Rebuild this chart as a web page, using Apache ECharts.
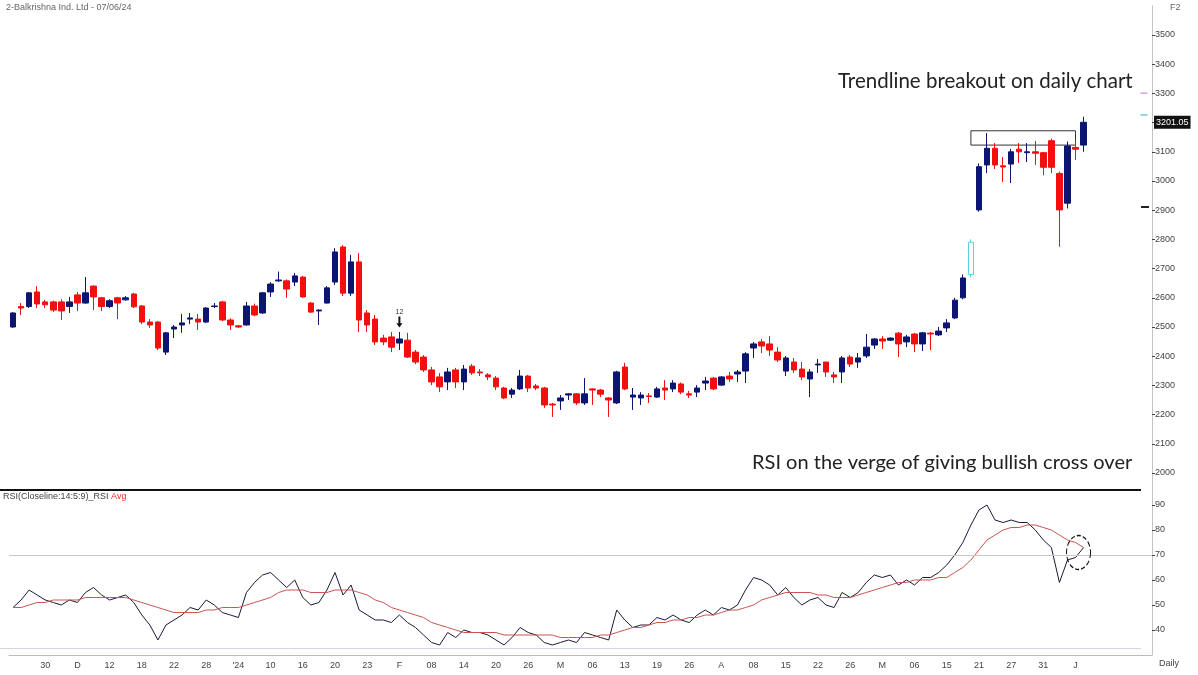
<!DOCTYPE html>
<html>
<head>
<meta charset="utf-8">
<script src="https://cdn.jsdelivr.net/npm/echarts@6/dist/echarts.min.js"></script>
<style>
  html, body { margin: 0; background: #fff; }
  #chart { width: 1198px; height: 675px; }
</style>
</head>
<body>
<div id="chart"></div>
<script>
"use strict";

// daily candles: [open, close, low, high]
const candles = [
  [2500, 2548, 2497, 2551], [2570, 2565, 2541, 2582], [2570, 2617, 2565, 2620], [2620, 2579, 2565, 2640],
  [2586, 2576, 2565, 2593], [2586, 2558, 2551, 2590], [2586, 2555, 2524, 2595], [2570, 2586, 2548, 2603],
  [2610, 2582, 2555, 2620], [2582, 2617, 2580, 2671], [2640, 2603, 2558, 2642], [2600, 2570, 2555, 2603],
  [2570, 2590, 2565, 2595], [2600, 2582, 2527, 2603], [2593, 2600, 2590, 2606], [2613, 2569, 2565, 2617],
  [2572, 2517, 2510, 2575], [2517, 2507, 2497, 2527], [2517, 2428, 2421, 2520], [2414, 2480, 2404, 2483],
  [2493, 2500, 2462, 2507], [2507, 2514, 2480, 2545], [2527, 2531, 2510, 2548], [2527, 2517, 2490, 2545],
  [2517, 2565, 2514, 2568], [2570, 2572, 2565, 2582], [2586, 2524, 2520, 2590], [2524, 2507, 2490, 2530],
  [2504, 2500, 2497, 2507], [2507, 2572, 2505, 2586], [2572, 2541, 2537, 2580], [2548, 2617, 2545, 2620],
  [2620, 2647, 2603, 2654], [2658, 2661, 2654, 2690], [2658, 2630, 2600, 2663], [2654, 2675, 2640, 2685],
  [2671, 2603, 2600, 2675], [2582, 2551, 2548, 2586], [2555, 2558, 2507, 2560], [2582, 2634, 2580, 2640],
  [2654, 2757, 2644, 2770], [2774, 2616, 2606, 2781], [2616, 2723, 2606, 2747], [2723, 2524, 2483, 2753],
  [2548, 2507, 2483, 2558], [2527, 2449, 2438, 2541], [2462, 2449, 2438, 2473], [2466, 2431, 2414, 2483],
  [2445, 2459, 2421, 2483], [2455, 2397, 2394, 2480], [2414, 2380, 2373, 2421], [2397, 2353, 2346, 2404],
  [2353, 2312, 2301, 2363], [2329, 2295, 2277, 2342], [2312, 2346, 2284, 2360], [2353, 2312, 2291, 2360],
  [2312, 2356, 2284, 2370], [2366, 2343, 2336, 2373], [2346, 2343, 2332, 2356], [2336, 2329, 2318, 2342],
  [2325, 2295, 2284, 2332], [2291, 2257, 2253, 2295], [2270, 2284, 2257, 2291], [2288, 2332, 2284, 2353],
  [2332, 2291, 2277, 2336], [2298, 2291, 2284, 2305], [2291, 2233, 2223, 2295], [2236, 2233, 2192, 2240],
  [2247, 2257, 2216, 2267], [2267, 2271, 2250, 2274], [2271, 2240, 2233, 2274], [2240, 2271, 2233, 2325],
  [2288, 2284, 2233, 2290], [2284, 2270, 2260, 2288], [2257, 2250, 2192, 2260], [2240, 2346, 2236, 2350],
  [2363, 2288, 2284, 2377], [2260, 2267, 2216, 2291], [2257, 2267, 2233, 2277], [2264, 2262, 2240, 2274],
  [2260, 2288, 2257, 2295], [2291, 2284, 2250, 2318], [2288, 2308, 2277, 2318], [2305, 2277, 2270, 2310],
  [2271, 2267, 2257, 2281], [2277, 2291, 2260, 2301], [2308, 2315, 2284, 2329], [2325, 2288, 2284, 2329],
  [2301, 2329, 2298, 2332], [2332, 2322, 2312, 2346], [2339, 2346, 2312, 2353], [2349, 2408, 2308, 2414],
  [2428, 2442, 2394, 2449], [2449, 2435, 2411, 2459], [2442, 2421, 2401, 2469], [2414, 2387, 2380, 2431],
  [2349, 2394, 2332, 2401], [2380, 2353, 2343, 2394], [2356, 2329, 2318, 2380], [2322, 2346, 2260, 2356],
  [2370, 2373, 2343, 2390], [2380, 2346, 2329, 2380], [2336, 2329, 2308, 2346], [2346, 2394, 2308, 2401],
  [2397, 2373, 2363, 2404], [2380, 2394, 2360, 2411], [2401, 2431, 2394, 2476], [2438, 2459, 2425, 2462],
  [2459, 2452, 2425, 2469], [2455, 2462, 2452, 2465], [2479, 2442, 2397, 2483], [2449, 2466, 2431, 2473],
  [2476, 2442, 2414, 2480], [2442, 2480, 2418, 2483], [2479, 2476, 2421, 2483], [2473, 2486, 2469, 2500],
  [2497, 2514, 2483, 2527], [2531, 2592, 2527, 2600], [2600, 2668, 2595, 2680], [2680, 2790, 2670, 2800],
  [2901, 3049, 2895, 3060], [3055, 3112, 3027, 3164], [3112, 3055, 3041, 3130], [3052, 3048, 2997, 3082],
  [3058, 3100, 2993, 3110], [3109, 3100, 3062, 3130], [3097, 3100, 3065, 3130], [3100, 3095, 3055, 3137],
  [3097, 3047, 3020, 3100], [3138, 3047, 3027, 3145], [3026, 2901, 2775, 3032], [2924, 3120, 2906, 3135],
  [3115, 3109, 3072, 3138], [3123, 3201.05, 3100, 3220],
];

// candles drawn hollow in cyan
const gapCandles = [119];

const rsi = [
  49, 52, 56, 54, 52, 51, 50, 52, 51, 55, 57, 54, 52, 53, 54, 51, 46, 42, 36, 42,
  44, 46, 49, 48, 52, 50, 47, 46, 45, 55, 59, 62, 63, 60, 57, 60, 53, 50, 51, 56,
  63, 54, 58, 48, 46, 44, 44, 43, 46, 43, 41, 38, 35, 34, 39, 37, 40, 39, 39, 38,
  36, 34, 37, 41, 39, 38, 35, 34, 35, 36, 35, 39, 38, 37, 36, 48, 44, 41, 42, 42,
  45, 44, 46, 44, 43, 46, 48, 46, 49, 48, 50, 56, 61, 60, 58, 54, 57, 53, 50, 52,
  53, 50, 49, 55, 53, 55, 59, 62, 61, 62, 58, 60, 58, 61, 61, 63, 66, 70, 75, 82,
  88, 90, 84, 83, 84, 83, 83, 80, 76, 73, 59, 68, 69, 73,
];

const rsiAvg = [
  49, 49, 50, 51, 51, 52, 52, 52, 52, 53, 53, 53, 53, 53, 53, 52, 51, 50, 49, 48,
  47, 47, 47, 47, 48, 48, 49, 49, 49, 50, 51, 52, 53, 55, 56, 56, 56, 55, 55, 55,
  56, 56, 56, 55, 54, 52, 51, 49, 48, 47, 46, 45, 43, 42, 41, 40, 39, 39, 39, 39,
  39, 38, 38, 38, 38, 38, 38, 38, 37, 37, 37, 37, 37, 38, 38, 39, 40, 41, 41, 42,
  43, 43, 44, 44, 45, 45, 46, 46, 47, 48, 48, 49, 50, 52, 53, 54, 55, 55, 55, 55,
  54, 54, 53, 53, 53, 54, 55, 56, 57, 58, 59, 59, 60, 60, 60, 61, 61, 63, 65, 68,
  72, 76, 78, 80, 81, 81, 82, 82, 81, 80, 78, 76, 75, 73,
];

// one label every 4th session, from session 4 to 132
const tickLabels = [
  "30", "D", "12", "18", "22", "28", "'24", "10", "16", "20", "23", "F", "08", "14", "20", "26", "M",
  "06", "13", "19", "26", "A", "08", "15", "22", "26", "M", "06", "15", "21", "27", "31", "J",
];

const lastClose = 3201.05;
const slotCount = 142; // sessions plus empty space before the price axis

const categories = Array.from({ length: slotCount }, (_, i) => String(i));
const showTick = (i) => i % 4 === 0 && i >= 4 && i <= 132;

const BLUE = "#0c1670";
const RED = "#f20f0f";
const FONT = "Liberation Sans";

const candleData = candles.map((c, i) =>
  gapCandles.includes(i)
    ? { value: c, itemStyle: { color: "#fff", color0: "#fff", borderColor: "#5ccfe0", borderColor0: "#5ccfe0" } }
    : c
);

const chart = echarts.init(document.getElementById("chart"));

chart.setOption({
  animation: false,
  backgroundColor: "#fff",
  grid: [
    { left: 9, right: 46, top: 5.8, height: 496.4 },
    { left: 9, right: 46, top: 490, height: 165 },
  ],
  xAxis: [
    { type: "category", gridIndex: 0, data: categories, boundaryGap: true, show: false },
    {
      type: "category",
      gridIndex: 1,
      data: categories,
      boundaryGap: true,
      axisLine: { lineStyle: { color: "#f2a3a3" } },
      axisTick: { alignWithLabel: true, interval: showTick, length: 4, lineStyle: { color: "#999" } },
      axisLabel: {
        interval: showTick,
        formatter: (v, i) => tickLabels[i / 4 - 1] ?? "",
        fontSize: 9,
        fontFamily: FONT,
        color: "#444",
        margin: 6,
      },
    },
  ],
  yAxis: [
    {
      type: "value",
      gridIndex: 0,
      position: "right",
      min: 1900,
      max: 3600,
      interval: 100,
      splitLine: { show: false },
      axisLine: { show: true, lineStyle: { color: "#c4c4c4" } },
      axisTick: { show: true, length: 3, lineStyle: { color: "#444" } },
      axisLabel: {
        showMinLabel: false,
        showMaxLabel: false,
        // the 3200 label sits under the last-price tag
        formatter: (v) => (v === 3200 ? "" : String(v)),
        fontSize: 9,
        fontFamily: FONT,
        color: "#444",
        margin: 3,
      },
    },
    {
      type: "value",
      gridIndex: 1,
      position: "right",
      min: 30,
      max: 96,
      interval: 10,
      splitLine: { show: false },
      axisLine: { show: true, lineStyle: { color: "#c4c4c4" } },
      axisTick: { show: true, length: 3, lineStyle: { color: "#444" } },
      axisLabel: {
        showMinLabel: false,
        showMaxLabel: false,
        formatter: (v) => (v % 10 === 0 ? String(v) : ""),
        fontSize: 9,
        fontFamily: FONT,
        color: "#444",
        margin: 3,
      },
    },
  ],
  series: [
    {
      type: "candlestick",
      xAxisIndex: 0,
      yAxisIndex: 0,
      data: candleData,
      barWidth: 6,
      itemStyle: { color: BLUE, color0: RED, borderColor: BLUE, borderColor0: RED, borderWidth: 1 },
      markArea: {
        silent: true,
        itemStyle: { color: "transparent", borderColor: "#333", borderWidth: 1 },
        data: [[{ xAxis: 119, yAxis: 3172 }, { xAxis: 132, yAxis: 3123 }]],
      },
      markLine: {
        silent: true,
        symbol: "none",
        lineStyle: { color: "transparent", width: 0 },
        label: {
          show: true,
          position: "end",
          formatter: String(lastClose),
          backgroundColor: "#111",
          color: "#fff",
          fontSize: 9,
          fontFamily: FONT,
          padding: [2, 2],
          distance: 2,
        },
        data: [{ yAxis: lastClose }],
      },
      markPoint: {
        silent: true,
        data: [
          {
            coord: [48, 2517],
            symbol: "path://M2,0 H4 V6 H6 L3,10 L0,6 H2 Z",
            symbolSize: [6, 11],
            itemStyle: { color: "#111" },
            label: { show: true, position: "top", formatter: "12", fontSize: 7, color: "#333", distance: 1 },
          },
          { coord: [141, 3301], symbol: "rect", symbolSize: [7, 1.5], symbolOffset: [-4, 0], itemStyle: { color: "#d9a3d9" }, label: { show: false } },
          { coord: [141, 3226], symbol: "rect", symbolSize: [7, 1.5], symbolOffset: [-4, 0], itemStyle: { color: "#6fcfd9" }, label: { show: false } },
          { coord: [141, 2911], symbol: "rect", symbolSize: [8, 2], symbolOffset: [-3, 0], itemStyle: { color: "#222" }, label: { show: false } },
        ],
      },
    },
    {
      type: "line",
      name: "RSI",
      xAxisIndex: 1,
      yAxisIndex: 1,
      data: rsi,
      symbol: "none",
      lineStyle: { color: "#1a1a38", width: 1 },
      markLine: {
        silent: true,
        symbol: "none",
        label: { show: false },
        lineStyle: { color: "#c8c8c8", type: "solid", width: 1 },
        data: [{ yAxis: 70 }],
      },
      markPoint: {
        silent: true,
        data: [
          {
            coord: [132, 71],
            symbol: "circle",
            symbolSize: [24, 34],
            symbolOffset: [3, 0],
            itemStyle: { color: "transparent", borderColor: "#111", borderWidth: 1.2, borderType: "dashed" },
            label: { show: false },
          },
        ],
      },
    },
    {
      type: "line",
      name: "RSI Avg",
      xAxisIndex: 1,
      yAxisIndex: 1,
      data: rsiAvg,
      symbol: "none",
      lineStyle: { color: "#c8554f", width: 1 },
    },
  ],
  graphic: [
    { type: "text", left: 6, top: 3, style: { text: "2-Balkrishna Ind. Ltd - 07/06/24", font: `9px ${FONT}`, fill: "#666" } },
    { type: "text", left: 1170, top: 3, style: { text: "F2", font: `9px ${FONT}`, fill: "#666" } },
    { type: "text", left: 1159, top: 659, style: { text: "Daily", font: `9px ${FONT}`, fill: "#444" } },
    { type: "line", shape: { x1: 0, y1: 490, x2: 1141, y2: 490 }, style: { stroke: "#111", lineWidth: 2 } },
    { type: "line", shape: { x1: 0, y1: 648.5, x2: 1141, y2: 648.5 }, style: { stroke: "#d6d6d6", lineWidth: 1 } },
    {
      type: "text",
      left: 3,
      top: 492,
      style: {
        text: "{a|RSI(Closeline:14:5:9)_RSI }{b|Avg}",
        rich: {
          a: { font: `9px ${FONT}`, fill: "#444" },
          b: { font: `9px ${FONT}`, fill: "#e03030" },
        },
      },
    },
    { type: "text", left: 838, top: 71, style: { text: "Trendline breakout on daily chart", font: `20.5px Lato`, fill: "#222" } },
    { type: "text", left: 752, top: 453, style: { text: "RSI on the verge of giving bullish cross over", font: `20px Lato`, fill: "#222" } },
  ],
});
</script>
</body>
</html>
